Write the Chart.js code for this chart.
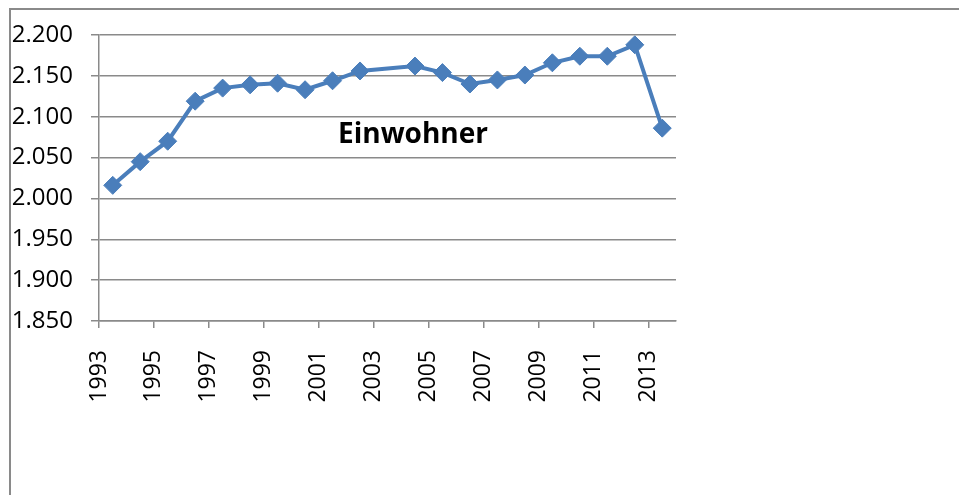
<!DOCTYPE html>
<html>
<head>
<meta charset="utf-8">
<script src="https://cdn.jsdelivr.net/npm/chart.js@4"></script>
<style>
  html, body { margin: 0; padding: 0; background: #fff; }
  #wrap { position: relative; width: 959px; height: 495px; overflow: hidden; }
  #frame { position: absolute; left: 9px; top: 8px; width: 960px; height: 500px;
           border-left: 2px solid #8a8a8a; border-top: 2px solid #8a8a8a; }
  canvas { position: absolute; left: 0; top: 0; }
</style>
</head>
<body>
<div id="wrap">
  <div id="frame"></div>
  <canvas id="c1" width="959" height="495"></canvas>
</div>
<script>
// Einwohner je Jahr (2003 fehlt)
var years = [1993, 1994, 1995, 1996, 1997, 1998, 1999, 2000, 2001, 2002,
             2004, 2005, 2006, 2007, 2008, 2009, 2010, 2011, 2012, 2013];
var einwohner = [2016, 2045, 2070, 2119, 2135, 2139, 2141, 2133, 2144, 2156,
                 2162, 2154, 2140, 2145, 2151, 2166, 2174, 2174, 2188, 2086];
var tickYears = [1993, 1995, 1997, 1999, 2001, 2003, 2005, 2007, 2009, 2011, 2013];
var chartTitle = 'Einwohner';

// data points sit in the middle of each year
var points = [];
for (var i = 0; i < years.length; i++) {
  points.push({ x: years[i] + 0.5, y: einwohner[i] });
}

function deNum(v) {
  var s = String(Math.round(v) % 1000);
  while (s.length < 3) s = '0' + s;
  return Math.floor(v / 1000) + '.' + s;
}

var titleInside = {
  id: 'titleInside',
  afterDraw: function(chart) {
    var ctx = chart.ctx;
    ctx.save();
    ctx.font = 'bold 28px "Open Sans"';
    ctx.fillStyle = '#000';
    ctx.textAlign = 'center';
    ctx.textBaseline = 'alphabetic';
    ctx.fillText(chartTitle, 413, 143);
    ctx.restore();
  }
};

var ctx = document.getElementById('c1').getContext('2d');
var chart1 = new Chart(ctx, {
  type: 'line',
  data: {
    datasets: [{
      label: chartTitle,
      data: points,
      borderColor: '#4a7ebb',
      backgroundColor: '#4a7ebb',
      borderWidth: 4,
      pointStyle: 'rectRot',
      pointRadius: 9,
      pointBorderWidth: 1,
      pointBackgroundColor: '#4a7ebb',
      pointBorderColor: '#4a7ebb',
      tension: 0
    }]
  },
  plugins: [titleInside],
  options: {
    responsive: false,
    animation: false,
    layout: { padding: { left: 0, right: 283, top: 35, bottom: 0 } },
    plugins: {
      legend: { display: false },
      tooltip: { enabled: false }
    },
    scales: {
      x: {
        type: 'linear',
        min: 1993,
        max: 2014,
        afterBuildTicks: function(axis) {
          axis.ticks = tickYears.map(function(v) { return { value: v }; });
        },
        afterFit: function(scale) { scale.height = 174; },
        grid: {
          drawOnChartArea: false,
          color: '#8a8a8a',
          lineWidth: 1.5,
          tickLength: 7
        },
        border: { color: '#8a8a8a', width: 1.5 },
        ticks: {
          minRotation: 90,
          maxRotation: 90,
          autoSkip: false,
          padding: 22,
          color: '#000',
          font: { family: '"Open Sans"', size: 23 },
          callback: function(v) { return String(v); }
        }
      },
      y: {
        min: 1850,
        max: 2200,
        afterFit: function(scale) { scale.width = 99; },
        grid: {
          color: '#8a8a8a',
          lineWidth: 1.5,
          tickLength: 8
        },
        border: { color: '#8a8a8a', width: 1.5 },
        ticks: {
          stepSize: 50,
          padding: 18,
          color: '#000',
          font: { family: '"Open Sans"', size: 24 },
          callback: function(v) { return deNum(v); }
        }
      }
    }
  }
});
</script>
</body>
</html>
